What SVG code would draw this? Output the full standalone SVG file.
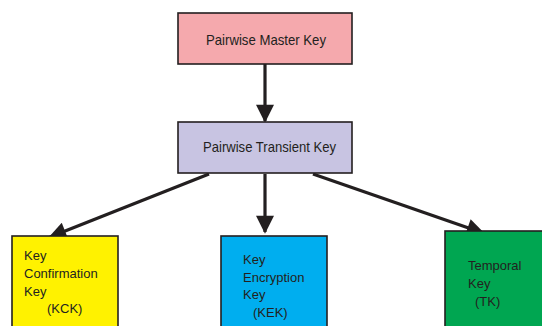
<svg xmlns="http://www.w3.org/2000/svg" width="542" height="326" viewBox="0 0 542 326">
  <style>
    .box { stroke: #231f20; stroke-width: 1.6; }
    .lbl { font-family: "Liberation Sans", Arial, sans-serif; font-size: 13px; fill: #231f20; }
    .big { font-size: 15px; }
    .edge { stroke: #231f20; stroke-width: 3.2; fill: none; marker-end: url(#head); }
  </style>
  <defs>
    <marker id="head" viewBox="0 0 10 10" refX="9" refY="5" markerUnits="userSpaceOnUse" markerWidth="20" markerHeight="18" orient="auto">
      <path d="M0,0 L10,5 L0,10 Z" fill="#231f20"/>
    </marker>
  </defs>

  <g id="connectors">
    <line class="edge" x1="265" y1="64" x2="265" y2="121"/>
    <line class="edge" x1="209" y1="174" x2="50" y2="237"/>
    <line class="edge" x1="265" y1="174" x2="265" y2="232"/>
    <line class="edge" x1="313" y1="174" x2="483" y2="233"/>
  </g>

  <g id="pmk">
    <rect class="box" x="178" y="13" width="174" height="51" fill="#f5a9ad"/>
    <text class="lbl big" x="206" y="45" textLength="120" lengthAdjust="spacingAndGlyphs">Pairwise Master Key</text>
  </g>

  <g id="ptk">
    <rect class="box" x="178" y="122" width="174" height="51" fill="#c8c4e2"/>
    <text class="lbl big" x="203" y="152" textLength="133" lengthAdjust="spacingAndGlyphs">Pairwise Transient Key</text>
  </g>

  <g id="kck">
    <rect class="box" x="12" y="236" width="106" height="100" fill="#fff200"/>
    <text class="lbl" x="24" y="260">Key</text>
    <text class="lbl" x="24" y="278">Confirmation</text>
    <text class="lbl" x="24" y="296">Key</text>
    <text class="lbl" x="47" y="313">(KCK)</text>
  </g>

  <g id="kek">
    <rect class="box" x="221" y="236" width="106" height="100" fill="#00aeef"/>
    <text class="lbl" x="243" y="264">Key</text>
    <text class="lbl" x="243" y="282">Encryption</text>
    <text class="lbl" x="243" y="299">Key</text>
    <text class="lbl" x="253" y="317">(KEK)</text>
  </g>

  <g id="tk">
    <rect class="box" x="445" y="231" width="110" height="105" fill="#00a651"/>
    <text class="lbl" x="468" y="270">Temporal</text>
    <text class="lbl" x="468" y="288">Key</text>
    <text class="lbl" x="475" y="306">(TK)</text>
  </g>
</svg>
